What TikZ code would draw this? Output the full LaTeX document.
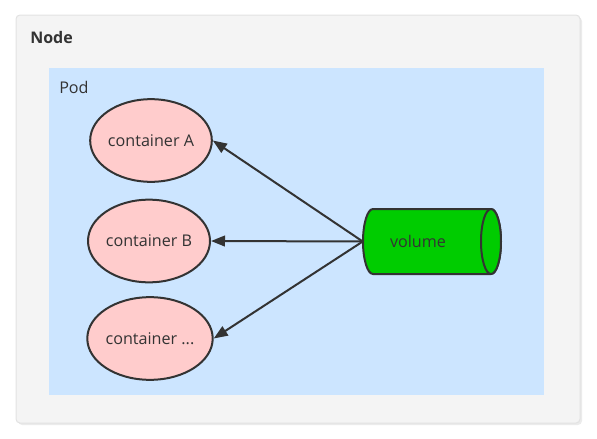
\documentclass[tikz,border=0pt]{standalone}
\usepackage{fontspec}
\setmainfont{Open Sans}
\usetikzlibrary{shapes.geometric,arrows.meta}
\definecolor{nodebg}{HTML}{F4F4F4}
\definecolor{nodeln}{HTML}{E2E2E2}
\definecolor{podbg}{HTML}{CCE5FF}
\definecolor{contbg}{HTML}{FFCCCC}
\definecolor{volbg}{HTML}{00CC00}
\definecolor{ink}{HTML}{333333}
\tikzset{
  txt/.style={font=\fontsize{12.1}{14}\selectfont},
  cont/.style={ellipse, draw=ink, line width=1.5pt, fill=contbg, minimum width=90pt, minimum height=62pt, inner sep=0pt, text=ink, txt},
  volbody/.style={draw=ink, line width=1.5pt, fill=volbg, line join=round},
  conn/.style={draw=ink, line width=1.5pt, -{Triangle[length=10.5pt,width=8pt]}},
  lbl/.style={anchor=west, text=ink, inner sep=0pt}
}
\begin{document}
\begin{tikzpicture}[x=0.75pt,y=-0.75pt]
\useasboundingbox (0,0) rectangle (597,439);
\fill[black!8, rounded corners=3pt] (18,17) rectangle (582,425);
\draw[nodeln, fill=nodebg, rounded corners=3pt, line width=0.75pt] (16,15) rectangle (580,423);
\node[lbl, font=\bfseries\fontsize{12}{14}\selectfont] (nodelabel) at (30,37) {Node};
\fill[podbg] (49,68) rectangle (544,395);
\node[lbl, txt] (podlabel) at (59,87) {Pod};
\node[cont] (a) at (151,140.5) {container A};
\node[cont] (b) at (149,241) {container B};
\node[cont] (c) at (150,338.5) {container ...};
% volume cylinder
\draw[volbody] (491,209) -- (373,209)
  arc[start angle=-90, end angle=-270, x radius=10, y radius=32.5]
  -- (491,274)
  arc[start angle=90, end angle=-90, x radius=10, y radius=32.5] -- cycle;
\draw[volbody] (491,241.5) ellipse [x radius=10, y radius=32.5];
\node[minimum width=103.5pt, minimum height=48.75pt, inner sep=0pt] (v) at (432,241.5) {};
\node[text=ink, txt, inner sep=0pt] (vlabel) at (418,241.5) {volume};
\draw[conn] (v.west) -- (a.east);
\draw[conn] (v.west) -- (b.east);
\draw[conn] (v.west) -- (c.east);
\end{tikzpicture}
\end{document}
